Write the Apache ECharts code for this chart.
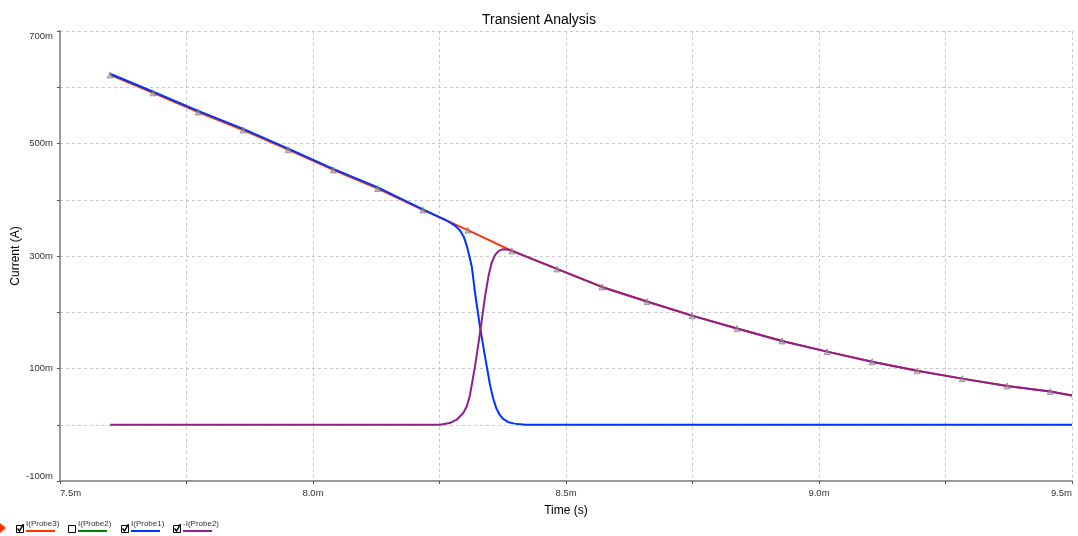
<!DOCTYPE html>
<html><head><meta charset="utf-8">
<script src="https://cdn.jsdelivr.net/npm/echarts@6/dist/echarts.min.js"></script>
<style>html,body{margin:0;padding:0;background:#fff}#c{width:1078px;height:536px}</style>
</head><body><div id="c"></div>
<script>
// Time in ms, currents in mA
const timeProbe3 = [7.599, 7.684, 7.773, 7.862, 7.951, 8.040, 8.128, 8.217, 8.306, 8.393, 8.482, 8.571, 8.660, 8.749, 8.838, 8.927, 9.016, 9.105, 9.194, 9.283, 9.372, 9.457, 9.5];
const probe3 = [622, 590, 556, 524, 489, 453, 420, 382, 346, 309, 277, 245, 219, 194, 171, 149, 130, 112, 96, 82, 69, 59, 52];

const timeProbe1 = [7.599, 7.684, 7.773, 7.862, 7.951, 8.040, 8.128, 8.217, 8.250, 8.262, 8.272, 8.282, 8.291, 8.298, 8.304, 8.309, 8.314, 8.320, 8.330, 8.340, 8.350, 8.356, 8.362, 8.368, 8.375, 8.385, 8.398, 8.420, 9.5];
const probe1 = [624, 592, 558, 526, 491, 455, 422, 383, 369, 364, 359, 353, 345, 334, 318, 300, 280, 236, 174, 121, 70, 47, 30, 19, 11, 5, 2, 0, 0];

const timeProbe2Neg = [7.599, 8.251, 8.270, 8.284, 8.297, 8.304, 8.310, 8.320, 8.330, 8.340, 8.347, 8.353, 8.360, 8.367, 8.375, 8.387, 8.400, 8.482, 8.571, 8.660, 8.749, 8.838, 8.927, 9.016, 9.105, 9.194, 9.283, 9.372, 9.457, 9.5];
const probe2Neg = [0, 0, 3, 9, 21, 33, 52, 103, 163, 228, 265, 288, 302, 309, 312, 311, 307, 277, 245, 219, 194, 171, 149, 130, 112, 96, 82, 69, 59, 52];

const legendNames = ['I(Probe3)', 'I(Probe2)', 'I(Probe1)', '-I(Probe2)'];
const legendChecked = [true, false, true, true];
const legendColors = ['#ff3300', '#008000', '#0033ff', '#8e1f8e'];

const zip = (t, v) => t.map((x, i) => [x, v[i]]);
const markerPts = zip(timeProbe3.slice(0, -1), probe3.slice(0, -1));

const graphics = [];
graphics.push({type: 'polygon', shape: {points: [[0, 523], [6, 528], [0, 533]]}, style: {fill: '#ff3300'}});
const legendX = [16, 68, 121, 173];
legendNames.forEach((n, i) => {
  const x = legendX[i];
  graphics.push({type: 'rect', shape: {x: x + 0.5, y: 525.5, width: 7, height: 7}, style: {fill: '#fff', stroke: '#000', lineWidth: 1}});
  if (legendChecked[i]) {
    graphics.push({type: 'polyline', shape: {points: [[x + 1.5, 528.5], [x + 3.5, 531], [x + 7.5, 524]]}, style: {stroke: '#000', lineWidth: 1.5, fill: null}});
  }
  graphics.push({type: 'text', x: x + 10, y: 519.5, style: {text: n, font: '8px "Liberation Sans", Arial', fill: '#333'}});
  graphics.push({type: 'rect', shape: {x: x + 10, y: 530, width: 29, height: 2}, style: {fill: legendColors[i]}});
});

const chart = echarts.init(document.getElementById('c'));
chart.setOption({
  animation: false,
  backgroundColor: '#fff',
  textStyle: {fontFamily: '"Liberation Sans", Arial, sans-serif'},
  title: {text: 'Transient Analysis', left: 'center', top: 8, textStyle: {fontSize: 14, fontWeight: 'normal', color: '#000'}},
  grid: {left: 60, right: 6, top: 31, bottom: 55, containLabel: false, outerBoundsMode: 'none'},
  xAxis: {
    type: 'value', min: 7.5, max: 9.5, interval: 0.25,
    name: 'Time (s)', nameLocation: 'middle', nameGap: 24,
    nameTextStyle: {fontSize: 12, color: '#000'},
    axisLine: {onZero: false, lineStyle: {color: '#999', width: 2}},
    axisTick: {show: true, length: 3, lineStyle: {color: '#555'}},
    axisLabel: {
      fontSize: 9.5, color: '#333', margin: 7,
      alignMinLabel: 'left', alignMaxLabel: 'right',
      formatter: v => (Math.abs(Math.round(v * 4) % 2) === 0 ? v.toFixed(1) + 'm' : '')
    },
    splitLine: {show: true, lineStyle: {color: '#c8c8c8', type: [3, 3]}}
  },
  yAxis: {
    type: 'value', min: -100, max: 700, interval: 100,
    name: 'Current (A)', nameLocation: 'middle', nameGap: 38, nameRotate: 90, nameMoveOverlap: false,
    nameTextStyle: {fontSize: 12, color: '#000'},
    axisLine: {show: true, onZero: false, lineStyle: {color: '#999', width: 2}},
    axisTick: {show: true, length: 3, lineStyle: {color: '#555'}},
    axisLabel: {
      fontSize: 9.5, color: '#333', margin: 7,
      verticalAlignMinLabel: 'bottom', verticalAlignMaxLabel: 'top',
      formatter: v => (((v + 100) % 200 === 0) ? v + 'm' : '')
    },
    splitLine: {show: true, lineStyle: {color: '#c8c8c8', type: [3, 3]}}
  },
  series: [
    {name: 'I(Probe3)', type: 'line', data: zip(timeProbe3, probe3), showSymbol: false, lineStyle: {color: legendColors[0], width: 2}, z: 2},
    {name: 'I(Probe1)', type: 'line', data: zip(timeProbe1, probe1), showSymbol: false, lineStyle: {color: legendColors[2], width: 2}, z: 3},
    {name: '-I(Probe2)', type: 'line', data: zip(timeProbe2Neg, probe2Neg), showSymbol: false, lineStyle: {color: legendColors[3], width: 2}, z: 4},
    {name: 'markers', type: 'scatter', data: markerPts, symbol: 'triangle', symbolSize: 6,
     itemStyle: {color: 'rgba(150,150,150,0.7)', borderColor: '#777', borderWidth: 0.8}, z: 5}
  ],
  graphic: graphics
});
</script></body></html>
